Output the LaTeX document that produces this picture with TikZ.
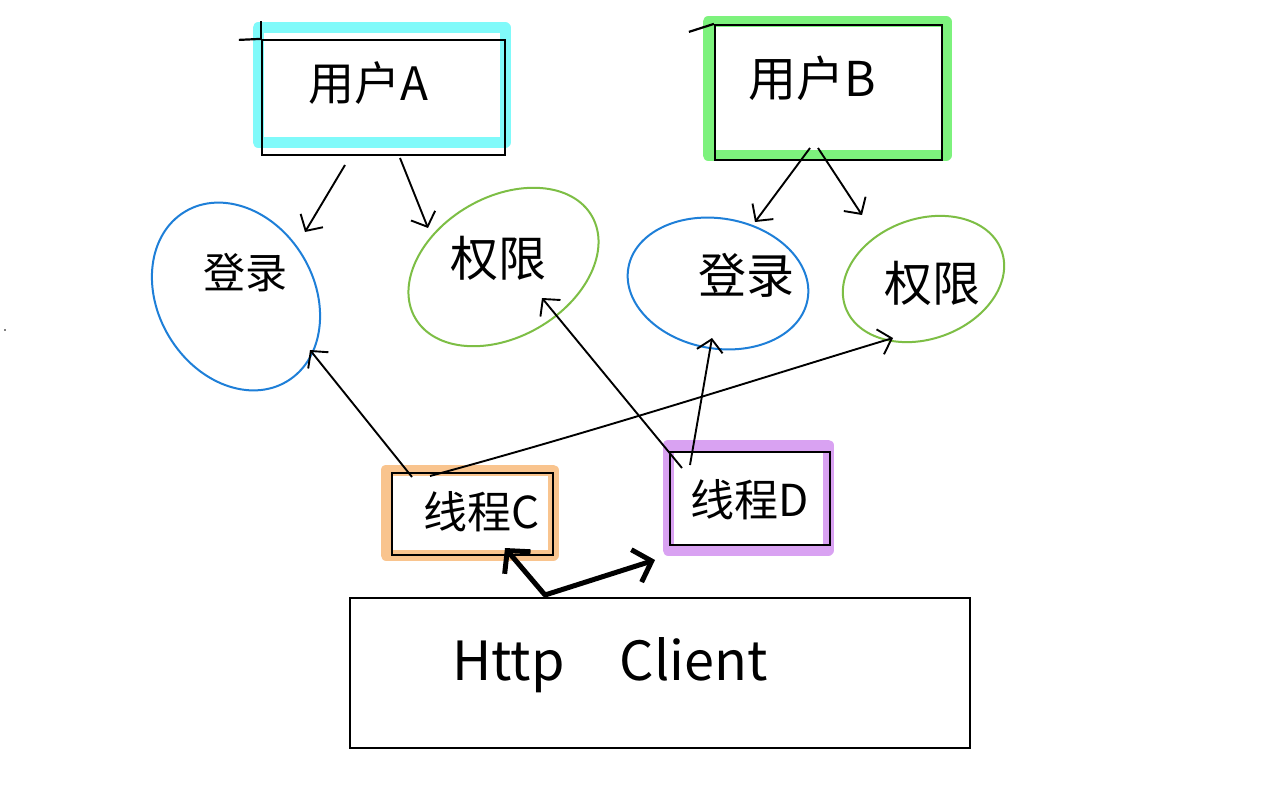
\documentclass[tikz,border=0pt]{standalone}
\usepackage{fontspec}
\newfontfamily\cjk{Noto Sans CJK SC}
\usetikzlibrary{shapes.geometric,arrows.meta,calc}
\definecolor{hlcyan}{HTML}{80FAFA}
\definecolor{hlgreen}{HTML}{7DF27D}
\definecolor{hlorange}{HTML}{F9C48E}
\definecolor{hlpurple}{HTML}{D9A2F2}
\definecolor{elblue}{HTML}{1E7FD8}
\definecolor{elgreen}{HTML}{7DBE45}
\begin{document}
\begin{tikzpicture}[x=1pt,y=-1pt,
  hl/.style={line width=11pt,line cap=round,line join=round},
  box/.style={draw=black,line width=2.2pt,rectangle,inner sep=0pt},
  ell/.style={draw,ellipse,line width=2pt,inner sep=0pt},
  lbl/.style={font=\cjk\fontsize{#1}{#1}\selectfont,inner sep=0pt},
  arr/.style={-{Straight Barb[length=12pt,width=26pt]},line width=1.9pt},
  bold/.style={{Straight Barb[length=16pt,width=34pt]}-{Straight Barb[length=16pt,width=34pt]},line width=5pt,line join=round}]
\useasboundingbox[fill=white] (0,0) rectangle (1280,800);
% highlight strokes
\draw[hl,hlcyan] (258,28) rectangle (505,142);
\draw[hl,hlgreen] (708,22) rectangle (946,155);
\draw[hl,hlorange] (386,470) rectangle (553,555);
\draw[hl,hlpurple] (668,445) rectangle (828,550);
% boxes
\node[box,minimum width=243pt,minimum height=115pt] (uA) at (383.5,97.5) {};
\node[box,minimum width=227pt,minimum height=135pt] (uB) at (828.5,92.5) {};
\node[box,minimum width=161pt,minimum height=82pt] (tC) at (472.5,514) {};
\node[box,minimum width=160pt,minimum height=93pt] (tD) at (750,498.5) {};
\node[box,minimum width=620pt,minimum height=150pt] (hc) at (660,673) {};
\draw[line width=2.2pt] (uA.north west) -- ++(-22,1);
\draw[line width=2.2pt] (uA.north west) -- ++(0,-18);
\draw[line width=2.2pt] (uB.north west) -- ++(-25,8);
% ellipses
\node[ell,elblue,minimum width=198pt,minimum height=156pt,rotate=-59] (lA) at (236,296.5) {};
\node[ell,elgreen,minimum width=204pt,minimum height=140pt,rotate=30] (pA) at (503.5,267) {};
\node[ell,elblue,minimum width=182pt,minimum height=130pt,rotate=-10] (lB) at (718,283.5) {};
\node[ell,elgreen,minimum width=166pt,minimum height=120pt,rotate=20] (pB) at (923.5,279) {};
% labels
\node[lbl=46] (uAt) at (368,83) {用户A};
\node[lbl=48] (uBt) at (812,78) {用户B};
\node[lbl=42] (lAt) at (245,273) {登录};
\node[lbl=48] (pAt) at (498,258) {权限};
\node[lbl=48] (lBt) at (746,275) {登录};
\node[lbl=48] (pBt) at (932,283) {权限};
\node[lbl=44] (tCt) at (482,512) {线程C};
\node[lbl=44] (tDt) at (750,500) {线程D};
\node[lbl=54] (hct) at (610,665) {Http\hspace{55pt}Client};
% connectors
\draw[arr] ($(uA)+(-38.5,67.5)$) -- ($(lA)+(69,-64.5)$);
\draw[arr] ($(uA)+(16.5,60.5)$) -- ($(pA)+(-75.5,-39)$);
\draw[arr] ($(uB)+(-18.5,55.5)$) -- ($(lB)+(37,-61.5)$);
\draw[arr] ($(uB)+(-10.5,55.5)$) -- ($(pB)+(-61.5,-64)$);
\draw[arr] ($(tC)+(-60.5,-37)$) -- ($(lA)+(74,53.5)$);
\draw[arr] ($(tC)+(-42.5,-38)$) .. controls (600,430) and (780,372) .. ($(pB)+(-30.5,59)$);
\draw[arr] ($(tD)+(-68,-30.5)$) -- ($(pA)+(38.5,31)$);
\draw[arr] ($(tD)+(-60,-33.5)$) -- ($(lB)+(-6,54.5)$);
\coordinate (bend) at (545,595);
\draw[bold] ($(tC)+(32.5,34)$) -- (bend) -- ($(tD)+(-95,61.5)$);
\fill (5,330) circle (0.8pt);
\end{tikzpicture}
\end{document}
